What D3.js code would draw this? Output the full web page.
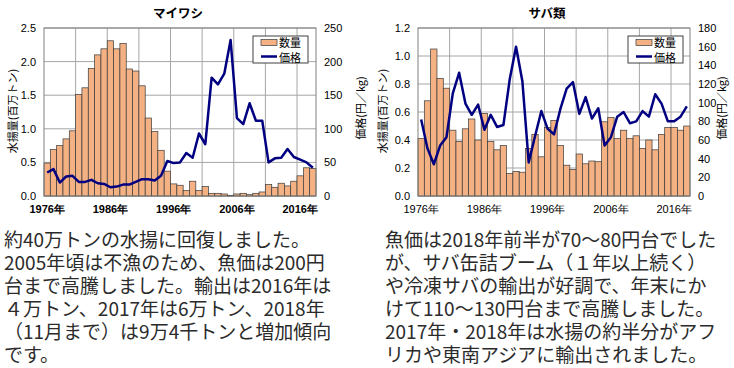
<!DOCTYPE html>
<html>
<head>
<meta charset="utf-8">
<script src="https://cdn.jsdelivr.net/npm/d3@7"></script>
<style>
	body { margin: 0; background: #fff; }
	svg { display: block; }
</style>
</head>
<body>
<svg></svg>
<script>
const years = [1976, 1977, 1978, 1979, 1980, 1981, 1982, 1983, 1984, 1985,
	1986, 1987, 1988, 1989, 1990, 1991, 1992, 1993, 1994, 1995,
	1996, 1997, 1998, 1999, 2000, 2001, 2002, 2003, 2004, 2005,
	2006, 2007, 2008, 2009, 2010, 2011, 2012, 2013, 2014, 2015,
	2016, 2017, 2018];
const yearLabels = [1976, 1986, 1996, 2006, 2016];

// マイワシ: 水揚量 (百万トン), 価格 (円/kg)
const sardineCatch = [0.49, 0.69, 0.75, 0.85, 0.97, 1.51, 1.61, 1.90, 2.10, 2.19,
	2.31, 2.19, 2.27, 1.89, 1.86, 1.64, 1.16, 0.96, 0.68, 0.37,
	0.18, 0.16, 0.08, 0.22, 0.08, 0.14, 0.04, 0.04, 0.03, 0.01,
	0.03, 0.04, 0.02, 0.04, 0.06, 0.17, 0.13, 0.19, 0.15, 0.22,
	0.30, 0.42, 0.41];
const sardinePrice = [35, 40, 20, 29, 30, 21, 21, 24, 19, 18,
	13, 14, 17, 17, 21, 25, 25, 23, 30, 52,
	49, 50, 64, 57, 93, 77, 176, 166, 182, 232,
	116, 107, 138, 112, 112, 50, 56, 57, 70, 58,
	54, 50, 42];
const sardineCatchTicks = [0, 0.5, 1.0, 1.5, 2.0, 2.5];
const sardinePriceTicks = [0, 50, 100, 150, 200, 250];

// サバ類
const mackerelCatch = [0.41, 0.68, 1.05, 0.84, 0.77, 0.47, 0.39, 0.48, 0.55, 0.40,
	0.59, 0.39, 0.33, 0.36, 0.16, 0.175, 0.17, 0.34, 0.44, 0.28,
	0.49, 0.54, 0.36, 0.22, 0.19, 0.30, 0.23, 0.25, 0.245, 0.53,
	0.56, 0.41, 0.47, 0.41, 0.43, 0.34, 0.40, 0.33, 0.44, 0.49,
	0.49, 0.47, 0.50];
const mackerelPrice = [82, 51, 34, 54, 63, 110, 132, 99, 87, 98,
	71, 87, 74, 76, 125, 160, 123, 36, 64, 91,
	72, 66, 93, 115, 122, 88, 106, 83, 94, 54,
	63, 85, 90, 78, 80, 91, 85, 109, 99, 80,
	80, 85, 96];
const mackerelCatchTicks = [0, 0.2, 0.4, 0.6, 0.8, 1.0, 1.2];
const mackerelPriceTicks = [0, 20, 40, 60, 80, 100, 120, 140, 160, 180];

const sardineNote = [
	"約40万トンの水揚に回復しました。",
	"2005年頃は不漁のため、魚価は200円",
	"台まで高騰しました。輸出は2016年は",
	"４万トン、2017年は6万トン、2018年",
	"（11月まで）は9万4千トンと増加傾向",
	"です。"
];
const mackerelNote = [
	"魚価は2018年前半が70～80円台でした",
	"が、サバ缶詰ブーム（１年以上続く）",
	"や冷凍サバの輸出が好調で、年末にか",
	"けて110～130円台まで高騰しました。",
	"2017年・2018年は水揚の約半分がアフ",
	"リカや東南アジアに輸出されました。"
];

const size = { w: 734, h: 368 };
const jp = "'Noto Sans CJK JP', sans-serif";
const num = "'Liberation Sans', Arial, sans-serif";
const svg = d3.select("svg").attr("width", size.w).attr("height", size.h);

drawChart(svg.append("g"), {
	title: "マイワシ", titleX: 178,
	left: 44, right: 316, top: 28, bottom: 196,
	catches: sardineCatch, prices: sardinePrice,
	qTicks: sardineCatchTicks, pTicks: sardinePriceTicks,
	yTitleL: 12, yTitleR: 360, yearWeight: "bold",
	legendX: 253
});
drawChart(svg.append("g"), {
	title: "サバ類", titleX: 547,
	left: 418, right: 690, top: 28, bottom: 196,
	catches: mackerelCatch, prices: mackerelPrice,
	qTicks: mackerelCatchTicks, pTicks: mackerelPriceTicks,
	yTitleL: 382, yTitleR: 721, yearWeight: "normal",
	legendX: 628
});

drawNote(svg.append("g"), sardineNote, 4);
drawNote(svg.append("g"), mackerelNote, 385);

function drawChart(g, o) {
	let x = d3.scaleBand().domain(years).range([o.left, o.right]).padding(0);
	let yQ = d3.scaleLinear()
		.domain([0, d3.max(o.qTicks)])
		.range([o.bottom, o.top]);
	let yP = d3.scaleLinear()
		.domain([0, d3.max(o.pTicks)])
		.range([o.bottom, o.top]);

	// grid
	g.append("g")
		.selectAll("line.h")
		.data(o.qTicks)
		.enter()
		.append("line")
		.attr("x1", o.left).attr("x2", o.right)
		.attr("y1", (d) => yQ(d)).attr("y2", (d) => yQ(d))
		.attr("stroke", "#a6a6a6").attr("stroke-width", 1);
	g.append("g")
		.selectAll("line.v")
		.data(years.filter((d) => (d - years[0]) % 5 === 0 && d !== years[0]))
		.enter()
		.append("line")
		.attr("x1", (d) => x(d)).attr("x2", (d) => x(d))
		.attr("y1", o.top).attr("y2", o.bottom)
		.attr("stroke", "#a6a6a6").attr("stroke-width", 1);

	// bars
	g.append("g")
		.selectAll("rect")
		.data(o.catches)
		.enter()
		.append("rect")
		.attr("x", (d, i) => x(years[i]))
		.attr("width", x.bandwidth())
		.attr("y", (d) => yQ(d))
		.attr("height", (d) => o.bottom - yQ(d))
		.attr("fill", "#f4b183")
		.attr("stroke", "#3a3a3a")
		.attr("stroke-width", 0.7);

	// price line
	let line = d3.line()
		.x((d, i) => x(years[i]) + x.bandwidth() / 2)
		.y((d) => yP(d));
	g.append("path")
		.datum(o.prices)
		.attr("d", line)
		.attr("fill", "none")
		.attr("stroke", "#000080")
		.attr("stroke-width", 2.5)
		.attr("stroke-linejoin", "round");

	// frame
	g.append("rect")
		.attr("x", o.left).attr("y", o.top)
		.attr("width", o.right - o.left).attr("height", o.bottom - o.top)
		.attr("fill", "none").attr("stroke", "#808080");

	// axes
	let axL = g.append("g")
		.attr("transform", `translate(${o.left},0)`)
		.call(d3.axisLeft(yQ).tickValues(o.qTicks).tickSize(0).tickPadding(8)
			.tickFormat(d3.format(".1f")));
	let axR = g.append("g")
		.attr("transform", `translate(${o.right},0)`)
		.call(d3.axisRight(yP).tickValues(o.pTicks).tickSize(0).tickPadding(8));
	let axB = g.append("g")
		.attr("transform", `translate(0,${o.bottom})`)
		.call(d3.axisBottom(x).tickValues(yearLabels).tickSize(0).tickPadding(9)
			.tickFormat((d) => d + "年"));
	[axL, axR, axB].forEach((a) => {
		a.select(".domain").remove();
		a.selectAll("text").attr("fill", "#000").attr("font-family", num).attr("font-size", 11);
	});
	axB.selectAll("text").attr("font-weight", o.yearWeight);

	// titles
	g.append("text")
		.attr("x", o.titleX).attr("y", 18)
		.attr("text-anchor", "middle")
		.attr("font-family", jp).attr("font-size", 12.5).attr("font-weight", "bold")
		.text(o.title);
	g.append("text")
		.attr("transform", `translate(${o.yTitleL},${(o.top + o.bottom) / 2 - 1}) rotate(-90)`)
		.attr("text-anchor", "middle").attr("dominant-baseline", "central")
		.attr("font-family", jp).attr("font-size", 11)
		.text("水揚量(百万トン)");
	g.append("text")
		.attr("transform", `translate(${o.yTitleR},${(o.top + o.bottom) / 2 - 4}) rotate(-90)`)
		.attr("text-anchor", "middle").attr("dominant-baseline", "central")
		.attr("font-family", jp).attr("font-size", 11)
		.text("価格(円／kg)");

	// legend
	let lg = g.append("g").attr("transform", `translate(${o.legendX},36)`);
	lg.append("rect")
		.attr("width", 55).attr("height", 27)
		.attr("fill", "#fff").attr("stroke", "#404040");
	lg.append("rect")
		.attr("x", 8).attr("y", 3.5).attr("width", 16).attr("height", 6)
		.attr("fill", "#f4b183").attr("stroke", "#3a3a3a").attr("stroke-width", 0.7);
	lg.append("line")
		.attr("x1", 8).attr("x2", 24).attr("y1", 20.5).attr("y2", 20.5)
		.attr("stroke", "#000080").attr("stroke-width", 2.5);
	lg.selectAll("text.lab")
		.data(["数量", "価格"])
		.enter()
		.append("text")
		.attr("x", 26).attr("y", (d, i) => 6 + i * 15)
		.attr("dominant-baseline", "central")
		.attr("font-family", jp).attr("font-size", 11)
		.text((d) => d);
}

function drawNote(g, lines, x0) {
	g.selectAll("text")
		.data(lines)
		.enter()
		.append("text")
		.attr("x", x0)
		.attr("y", (d, i) => 247 + i * 23)
		.attr("font-family", jp)
		.attr("font-size", 19)
		.attr("fill", "#2b2b2b")
		.text((d) => d);
}
</script>
</body>
</html>
